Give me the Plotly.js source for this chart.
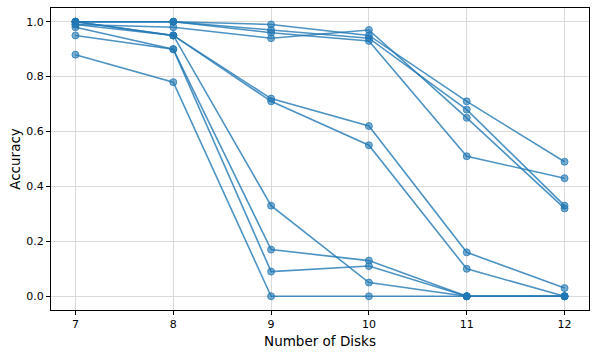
<!DOCTYPE html>
<html>
<head>
<meta charset="utf-8">
<script src="https://cdn.plot.ly/plotly-3.0.1.min.js"></script>
<style>
  html, body { margin: 0; padding: 0; background: #fff; }
  #chart { width: 597px; height: 354px; }
</style>
</head>
<body>
<div id="chart"></div>
<script>
// number of disks on the x axis
var disks = [7, 8, 9, 10, 11, 12];

// one accuracy curve per run
var runA = [1.00, 1.00, 0.99, 0.95, 0.71, 0.49];
var runB = [1.00, 1.00, 0.97, 0.94, 0.68, 0.33];
var runC = [1.00, 1.00, 0.96, 0.93, 0.51, 0.43];
var runD = [0.99, 0.98, 0.94, 0.97, 0.65, 0.32];
var runE = [1.00, 0.95, 0.72, 0.62, 0.16, 0.03];
var runF = [1.00, 0.95, 0.71, 0.55, 0.10, 0.00];
var runG = [0.99, 0.95, 0.33, 0.05, 0.00, 0.00];
var runH = [0.95, 0.90, 0.17, 0.13, 0.00, 0.00];
var runI = [0.98, 0.90, 0.09, 0.11, 0.00, 0.00];
var runJ = [0.88, 0.78, 0.00, 0.00, 0.00, 0.00];

var runs = [runA, runB, runC, runD, runE, runF, runG, runH, runI, runJ];

var yTicks = [0, 0.2, 0.4, 0.6, 0.8, 1.0];

var data = runs.map(function (r) {
  return {
    x: disks,
    y: r,
    type: 'scatter',
    mode: 'lines+markers',
    line: { color: 'rgba(31,119,180,0.8)', width: 1.6 },
    marker: {
      color: 'rgba(31,119,180,0.6)',
      size: 7,
      line: { color: 'rgba(31,119,180,0.75)', width: 1 }
    },
    showlegend: false,
    hoverinfo: 'x+y'
  };
});

var axisStyle = {
  showline: true,
  linecolor: '#000',
  linewidth: 1,
  mirror: true,
  ticks: 'outside',
  ticklen: 4,
  tickwidth: 1,
  tickcolor: '#000',
  showgrid: true,
  gridcolor: '#dadada',
  gridwidth: 1,
  zeroline: false,
  tickfont: { family: 'DejaVu Sans', size: 11, color: '#000' }
};

var layout = {
  width: 597,
  height: 354,
  margin: { l: 51, r: 8, t: 8, b: 44 },
  paper_bgcolor: '#fff',
  plot_bgcolor: '#fff',
  font: { family: 'DejaVu Sans', color: '#000' },
  xaxis: Object.assign({}, axisStyle, {
    range: [6.75, 12.25],
    tickvals: disks,
    title: { text: 'Number of Disks', font: { size: 13.5 }, standoff: 6 }
  }),
  yaxis: Object.assign({}, axisStyle, {
    range: [-0.05, 1.05],
    tickvals: yTicks,
    tickformat: '.1f',
    title: { text: 'Accuracy', font: { size: 13.5 }, standoff: 2 }
  })
};

Plotly.newPlot('chart', data, layout, { displayModeBar: false, staticPlot: true });
</script>
</body>
</html>
